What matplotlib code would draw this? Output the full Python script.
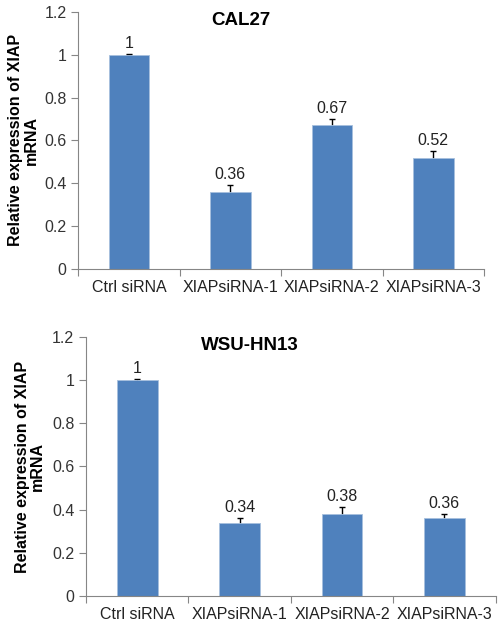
import matplotlib.pyplot as plt

categories = ["Ctrl siRNA", "XIAPsiRNA-1", "XIAPsiRNA-2", "XIAPsiRNA-3"]

cal27_values = [1.0, 0.36, 0.67, 0.52]
cal27_errors = [0.003, 0.03, 0.03, 0.03]
cal27_labels = ["1", "0.36", "0.67", "0.52"]

wsu_values = [1.0, 0.34, 0.38, 0.36]
wsu_errors = [0.003, 0.02, 0.03, 0.02]
wsu_labels = ["1", "0.34", "0.38", "0.36"]

yticks = [0, 0.2, 0.4, 0.6, 0.8, 1.0, 1.2]
ytick_labels = ["0", "0.2", "0.4", "0.6", "0.8", "1", "1.2"]

plt.rcParams["font.family"] = ["Liberation Sans", "DejaVu Sans"]

bar_color = "#4F81BD"
axis_color = "#868686"


def draw_panel(ax, values, errors, labels, title):
    x = list(range(len(categories)))
    # error bars sit behind the bars so only the upper half shows
    ax.errorbar(x, values, yerr=errors, fmt="none",
                ecolor="black", elinewidth=1.0, capsize=2.5, capthick=1.0, zorder=1)
    ax.bar(x, values, width=0.4, color=bar_color, edgecolor="#A7C0DE", linewidth=0.6, zorder=2)
    for xi, v, e, lab in zip(x, values, errors, labels):
        ax.text(xi, v + e + 0.015, lab, ha="center", va="bottom", fontsize=11.5, color="#222222")
    ax.set_xlim(-0.5, 3.5)
    ax.set_ylim(0, 1.2)
    ax.set_yticks(yticks)
    ax.set_yticklabels(ytick_labels, fontsize=11.5, color="#333333")
    # category boundaries carry the tick marks, labels sit at centres
    ax.set_xticks([-0.5, 0.5, 1.5, 2.5, 3.5])
    ax.set_xticklabels([])
    ax.set_xticks(x, minor=True)
    ax.set_xticklabels(categories, minor=True, fontsize=11.5, color="#222222")
    ax.tick_params(axis="x", which="major", length=5, color=axis_color, direction="out")
    ax.tick_params(axis="x", which="minor", length=0, pad=8)
    ax.tick_params(axis="y", length=5, color=axis_color, direction="out")
    for side in ["top", "right"]:
        ax.spines[side].set_visible(False)
    for side in ["left", "bottom"]:
        ax.spines[side].set_color(axis_color)
    ax.set_ylabel("Relative expression of XIAP\nmRNA", fontsize=11.5, fontweight="bold", linespacing=1.0)
    ax.text(0.40, 1.0, title, transform=ax.transAxes, ha="center", va="top",
            fontsize=13.5, fontweight="bold")


fig = plt.figure(figsize=(4.98, 6.24), dpi=100)
ax1 = fig.add_axes([0.157, 0.569, 0.815, 0.412])
ax2 = fig.add_axes([0.173, 0.045, 0.822, 0.415])

draw_panel(ax1, cal27_values, cal27_errors, cal27_labels, "CAL27")
draw_panel(ax2, wsu_values, wsu_errors, wsu_labels, "WSU-HN13")

ax1.yaxis.set_label_coords(-0.098, 0.5)
ax2.yaxis.set_label_coords(-0.10, 0.5)

fig.savefig("out.png", dpi=100)
